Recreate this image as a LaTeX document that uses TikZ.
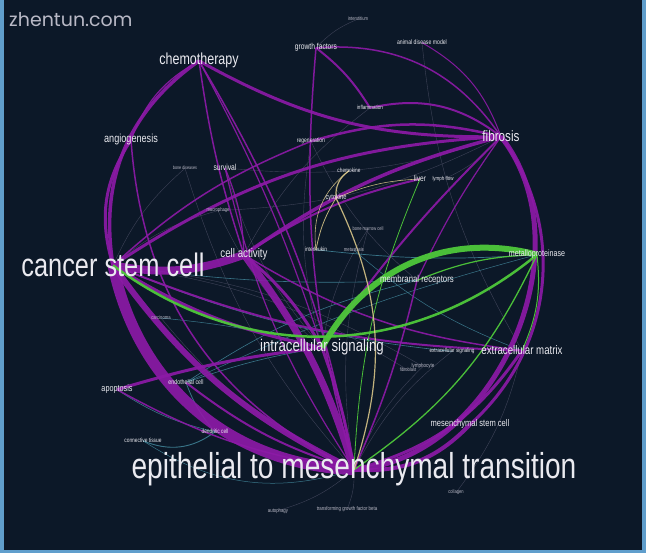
\documentclass[tikz,border=0pt]{standalone}
\usepackage{fontspec}
\setmainfont{Liberation Sans}[FakeStretch=0.78]
\newfontfamily\markfont{Poppins}
\usepackage{xcolor}
\usepackage{tikz}
\definecolor{bgnavy}{RGB}{12,24,40}
\definecolor{frameblue}{RGB}{96,158,204}
\definecolor{netpurple}{RGB}{140,26,166}
\definecolor{netgreen}{RGB}{78,200,58}
\definecolor{netcream}{RGB}{225,205,140}
\definecolor{netteal}{RGB}{62,128,148}
\definecolor{netgrey}{RGB}{95,95,120}
\definecolor{labelwhite}{RGB}{234,234,240}
\definecolor{labelgrey}{RGB}{185,185,198}
\pgfdeclarelayer{links}
\pgfsetlayers{links,main}

\begin{document}
\begin{tikzpicture}[x=1pt, y=-1pt,
    lbl/.style={font=\fontsize{#1}{#1}\selectfont, text=labelwhite, inner sep=0pt, anchor=base},
    dim/.style={text=labelgrey},
    plink/.style={draw=netpurple, opacity=0.92},
    glink/.style={draw=netgreen, opacity=0.95},
    clink/.style={draw=netcream, opacity=0.85},
    tlink/.style={draw=netteal, opacity=0.9},
    flink/.style={draw=netgrey, opacity=0.6, line width=0.4pt}]
    \useasboundingbox (0,0) rectangle (646,553);

    % Big labels
    \node[lbl=36] (emt) at (354,479) {epithelial to mesenchymal transition};
    \node[lbl=32.5] (csc) at (113,277) {cancer stem cell};
    \node[lbl=16] (chemo) at (199,65) {chemotherapy};
    \node[lbl=15] (fibro) at (501,142) {fibrosis};
    \node[lbl=17] (intra) at (322,352) {intracellular signaling};

    % Medium labels
    \node[lbl=12.4] (ecm) at (522,355) {extracellular matrix};
    \node[lbl=12.5] (cellact) at (244,258) {cell activity};
    \node[lbl=10] (memb) at (417,283) {membranal receptors};
    \node[lbl=11.7] (angio) at (131,143) {angiogenesis};
    \node[lbl=9.7] (msc) at (470,427) {mesenchymal stem cell};
    \node[lbl=9.3] (apop) at (117,392) {apoptosis};
    \node[lbl=9.1] (mmp) at (537,257) {metalloproteinase};
    \node[lbl=8.6] (growth) at (316,50) {growth factors};
    \node[lbl=8.7] (surv) at (225,171) {survival};
    \node[lbl=8.4] (liver) at (420,182) {liver};
    \node[lbl=7.3] (cyto) at (336,200) {cytokine};

    % Small labels
    \node[lbl=6.6] (animal) at (422,45) {animal disease model};
    \node[lbl=5.3, dim] (interst) at (358,21) {interstitium};
    \node[lbl=5.9] (inflam) at (370,110) {inflammation};
    \node[lbl=4.8, dim] (bonedis) at (185,170) {bone diseases};
    \node[lbl=6.4] (regen) at (311,143) {regeneration};
    \node[lbl=5.3, dim] (macro) at (218,212) {macrophage};
    \node[lbl=6.1] (chemok) at (349,173) {chemokine};
    \node[lbl=5.7] (lymphf) at (443,181) {lymph flow};
    \node[lbl=5.2, dim] (bmc) at (368,231) {bone marrow cell};
    \node[lbl=6.2] (ileuk) at (316,252) {interleukin};
    \node[lbl=5.4, dim] (mutat) at (354,252) {metastasis};
    \node[lbl=5.4, dim] (carci) at (161,320) {carcinoma};
    \node[lbl=6.8] (endo) at (186,385) {endothelial cell};
    \node[lbl=6] (ecsig) at (452,353) {extracellular signaling};
    \node[lbl=5.8, dim] (lympho) at (423,368) {lymphocyte};
    \node[lbl=5.2, dim] (fibrob) at (408,372) {fibroblast};
    \node[lbl=6.2] (conn) at (143,443) {connective tissue};
    \node[lbl=6.2] (dendr) at (215,434) {dendritic cell};
    \node[lbl=5.2, dim] (collag) at (456,494) {collagen};
    \node[lbl=5.5, dim] (autoph) at (278,512) {autophagy};
    \node[lbl=5.6, dim] (tgfb) at (347,511) {transforming growth factor beta};

    % Watermark
    \node[font=\markfont\fontsize{19}{19}\selectfont, text=labelgrey, inner sep=0pt, anchor=base west] (mark) at (9,27) {zhentun.com};

    \begin{pgfonlayer}{links}
    % Background and frame
    \fill[frameblue] (0,0) rectangle (646,553);
    \fill[bgnavy] (4,0) rectangle (642,550);

    % Faint links
    \foreach \a/\b in {bonedis/emt, macro/intra, bmc/intra, ecsig/emt, lympho/emt,
        fibrob/csc, collag/ecm, tgfb/emt, autoph/emt, interst/growth, regen/memb,
        surv/fibro, bonedis/csc, macro/csc, lymphf/fibro, carci/emt, bmc/emt,
        macro/fibro, animal/ecm, surv/intra, regen/intra, lympho/csc, inflam/cellact}
        \draw[flink] (\a.center) to[bend right=12] (\b.center);

    % Teal links
    \foreach \a/\b/\w/\bnd in {conn/dendr/0.9/30, dendr/endo/0.8/-10, endo/memb/0.6/-10,
        csc/memb/0.6/5, ileuk/mmp/0.7/5, apop/dendr/0.6/10, endo/intra/0.6/-5,
        conn/emt/0.5/25, carci/intra/0.5/-5, mutat/ecm/0.5/10, csc/ecsig/0.6/8,
        endo/mmp/0.5/-5}
        \draw[tlink, line width=\w pt] (\a.center) to[bend right=\bnd] (\b.center);

    % Purple links
    \foreach \a/\b/\w/\bnd in {csc/emt/11/38, csc/emt/6/14, csc/cellact/8/15,
        cellact/emt/7/-10, chemo/csc/3.5/32, angio/csc/3/25, chemo/fibro/3/15,
        chemo/emt/1.5/-10, chemo/cellact/1.5/5, chemo/intra/1.2/-5, fibro/emt/5/-62,
        fibro/msc/3/-42, fibro/csc/3/15, fibro/cellact/3.5/10, fibro/intra/2/5,
        fibro/memb/1.2/5, inflam/fibro/2/-25, growth/fibro/1.5/-30, growth/emt/1.5/10,
        growth/inflam/2/-10, animal/fibro/1/-20, regen/fibro/2.5/-15, regen/csc/1.5/10,
        surv/emt/1.2/10, surv/cellact/1.2/-10, angio/emt/1.5/30, intra/emt/3/-5,
        csc/intra/3/10, apop/intra/3/-5, apop/emt/1.5/10, ecm/emt/3/-20,
        msc/emt/4/-25, csc/ecm/2/10, cellact/ecm/1.5/12, endo/emt/2/10,
        memb/emt/1.5/-5, liver/cellact/2/10, cellact/intra/3/-10, angio/chemo/1.2/-20}
        \draw[plink, line width=\w pt] (\a.center) to[bend right=\bnd] (\b.center);

    % Green links
    \foreach \a/\b/\w/\bnd in {mmp/intra/6/38, csc/mmp/2.5/38, mmp/emt/1.3/-15,
        mmp/ecm/1/-15, liver/emt/0.8/10, memb/mmp/1.2/-10}
        \draw[glink, line width=\w pt] (\a.center) to[bend right=\bnd] (\b.center);

    % Cream links
    \foreach \a/\b/\w/\bnd in {chemok/cyto/1.2/30, cyto/emt/1.2/-22, cyto/ileuk/0.8/10,
        cyto/liver/0.6/-10, chemok/ileuk/0.6/30}
        \draw[clink, line width=\w pt] (\a.center) to[bend right=\bnd] (\b.center);
    \end{pgfonlayer}
\end{tikzpicture}
\end{document}
